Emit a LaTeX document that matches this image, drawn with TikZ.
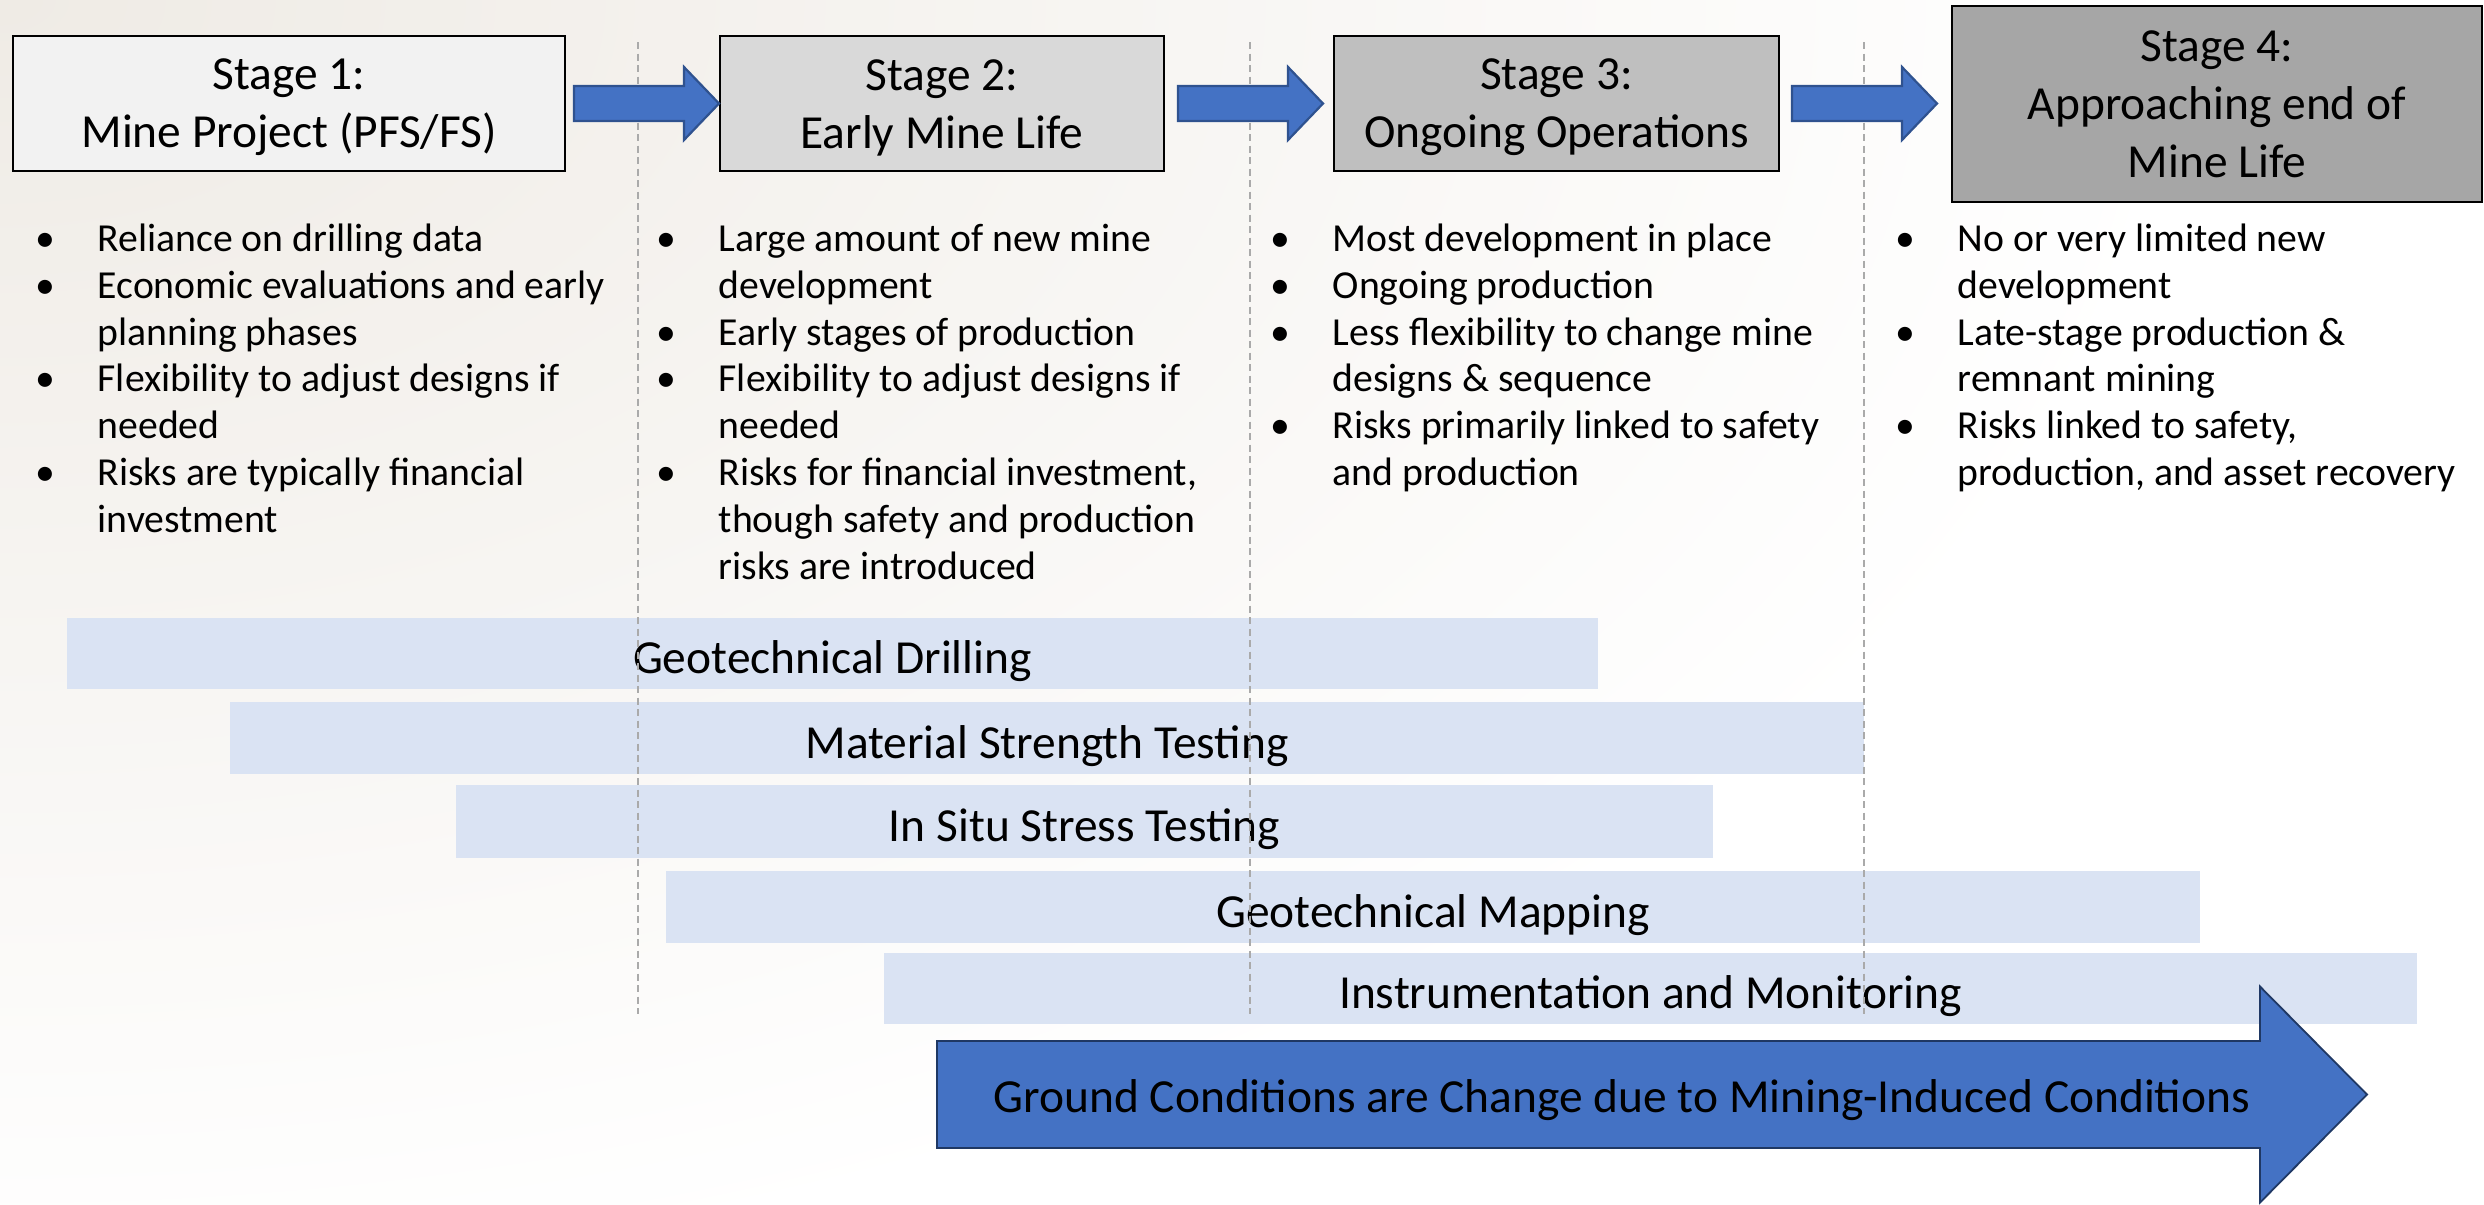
\documentclass[tikz,border=0pt]{standalone}
\usepackage{fontspec}
\setmainfont{Carlito}
\usetikzlibrary{calc}
\definecolor{bgtint}{RGB}{239,235,229}
\definecolor{sonefill}{RGB}{242,242,242}
\definecolor{stwofill}{RGB}{217,217,217}
\definecolor{sthreefill}{RGB}{191,191,191}
\definecolor{sfourfill}{RGB}{166,166,166}
\definecolor{barfill}{RGB}{218,227,243}
\definecolor{arrowfill}{RGB}{68,114,196}
\definecolor{arrowline}{RGB}{47,82,143}
\definecolor{bigline}{RGB}{31,56,100}
\definecolor{divgray}{RGB}{170,170,170}
\newcommand\bi{\makebox[6.2mm][l]{•}}
\newcommand\bc{\hspace*{6.2mm}}
\newcommand\tallby[1]{\rule{0pt}{#1}}
\newcommand\stagearrow[2]{%
  \draw[sarrow] ($(#1.east)+(#2,-17.5)$) -- ++(110,0) -- ++(0,-19) -- ++(35,36.5)
    -- ++(-35,36.5) -- ++(0,-19) -- ++(-110,0) -- cycle;}
\begin{document}
\begin{tikzpicture}[x=0.1mm,y=-0.1mm,
  stagebox/.style={draw=black, line width=0.2mm, align=center, inner sep=0pt,
    font=\fontsize{13.5}{16.5}\selectfont},
  barbox/.style={fill=barfill, inner sep=0pt, font=\fontsize{13.5}{16.5}\selectfont},
  sarrow/.style={fill=arrowfill, draw=arrowline, line width=0.22mm, line join=miter},
  barrow/.style={fill=arrowfill, draw=bigline, line width=0.18mm, line join=miter},
  bullets/.style={inner sep=0pt, anchor=base west, font=\fontsize{11.3}{13.37}\selectfont},
  divider/.style={draw=divgray, line width=0.14mm, dash pattern=on 0.7mm off 0.45mm}
]
\useasboundingbox (0,0) rectangle (2484,1204);
\fill[white] (0,0) rectangle (2484,1204);
\begin{scope}
  \clip (0,0) rectangle (2484,1204);
  \shade[inner color=bgtint, outer color=white] (0,0) ellipse [x radius=220mm, y radius=130mm];
\end{scope}

% stage boxes
\node[stagebox, fill=sonefill, minimum width=55.2mm, minimum height=13.5mm] (s1) at (289,103.5) {\tallby{3.9mm}Stage 1:\\Mine Project (PFS/FS)};
\node[stagebox, fill=stwofill, minimum width=44.4mm, minimum height=13.5mm] (s2) at (942,103.5) {\tallby{3.9mm}Stage 2:\\Early Mine Life};
\node[stagebox, fill=sthreefill, minimum width=44.5mm, minimum height=13.5mm] (s3) at (1556.5,103.5) {\tallby{3.9mm}Stage 3:\\Ongoing Operations};
\node[stagebox, fill=sfourfill, minimum width=53mm, minimum height=19.6mm] (s4) at (2217,104) {Stage 4:\\Approaching end of\\Mine Life};

% activity bars
\node[barbox, minimum width=153.1mm, minimum height=7.1mm] (g1) at (832.5,653.5) {\tallby{4.9mm}Geotechnical Drilling};
\node[barbox, minimum width=163.4mm, minimum height=7.2mm] (g2) at (1047,738) {\tallby{4.9mm}Material Strength Testing};
\node[barbox, minimum width=125.7mm, minimum height=7.3mm] (g3) at (1084.5,821.5) {\tallby{4.9mm}In Situ Stress Testing};
\node[barbox, minimum width=153.4mm, minimum height=7.2mm] (g4) at (1433,907) {\tallby{4.9mm}Geotechnical Mapping};
\node[barbox, minimum width=153.3mm, minimum height=7.1mm] (g5) at (1650.5,988.5) {\tallby{4.9mm}Instrumentation and Monitoring};

% dividers
\draw[divider] (638,42) -- (638,1014);
\draw[divider] (1250,42) -- (1250,1014);
\draw[divider] (1864,42) -- (1864,1014);

% stage arrows
\stagearrow{s1}{8}
\stagearrow{s2}{13}
\stagearrow{s3}{12}

% bullet lists
\node[bullets] (l1) at (35,251) {\begin{tabular}[t]{@{}l@{}}
\bi Reliance on drilling data\\
\bi Economic evaluations and early\\
\bc planning phases\\
\bi Flexibility to adjust designs if\\
\bc needed\\
\bi Risks are typically financial\\
\bc investment
\end{tabular}};
\node[bullets] (l2) at (656,251) {\begin{tabular}[t]{@{}l@{}}
\bi Large amount of new mine\\
\bc development\\
\bi Early stages of production\\
\bi Flexibility to adjust designs if\\
\bc needed\\
\bi Risks for financial investment,\\
\bc though safety and production\\
\bc risks are introduced
\end{tabular}};
\node[bullets] (l3) at (1270,251) {\begin{tabular}[t]{@{}l@{}}
\bi Most development in place\\
\bi Ongoing production\\
\bi Less flexibility to change mine\\
\bc designs \& sequence\\
\bi Risks primarily linked to safety\\
\bc and production
\end{tabular}};
\node[bullets] (l4) at (1895,251) {\begin{tabular}[t]{@{}l@{}}
\bi No or very limited new\\
\bc development\\
\bi Late-stage production \&\\
\bc remnant mining\\
\bi Risks linked to safety,\\
\bc production, and asset recovery
\end{tabular}};

% big arrow
\coordinate (gs) at (937,1094.5);
\draw[barrow] ($(gs)+(0,-53.5)$) -- ++(1323,0) -- ++(0,-54.5) -- ++(107,108)
  -- ++(-107,108) -- ++(0,-54.5) -- ++(-1323,0) -- cycle;
\node[anchor=base, inner sep=0pt, font=\fontsize{13.5}{16.5}\selectfont] (gt) at ($(gs)+(685,17.5)$) {Ground Conditions are Change due to Mining-Induced Conditions};
\end{tikzpicture}
\end{document}
